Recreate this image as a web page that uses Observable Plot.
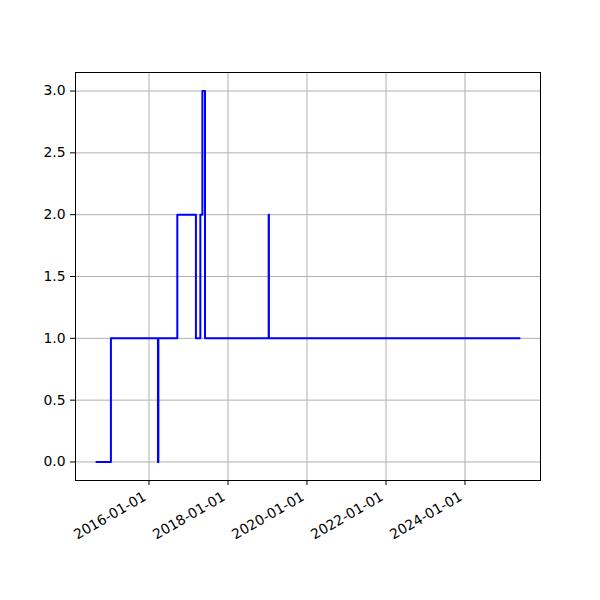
<!DOCTYPE html>
<html>
<head>
<meta charset="utf-8">
<script src="https://cdn.jsdelivr.net/npm/d3@7"></script>
<script src="https://cdn.jsdelivr.net/npm/@observablehq/plot@0.6"></script>
<style>
  html, body { margin: 0; padding: 0; background: #fff; }
</style>
</head>
<body>
<div id="chart"></div>
<script>
const dates = [
  "2014-09-04", "2015-01-14", "2016-03-24", "2016-03-28", "2016-09-19",
  "2017-03-10", "2017-04-20", "2017-05-09", "2017-06-02", "2019-01-12",
  "2019-01-14", "2025-05-18"
];
const values = [0, 1, 0, 1, 2, 1, 2, 3, 1, 2, 1, 1];
const yTicks = [0, 0.5, 1, 1.5, 2, 2.5, 3];
const xTickYears = [2016, 2018, 2020, 2022, 2024];

const data = dates.map((d, i) => ({date: new Date(d + "T00:00:00Z"), value: values[i]}));

const ext = d3.extent(data, d => d.date);
const span = ext[1] - ext[0];
const xDomain = [new Date(+ext[0] - 0.05 * span), new Date(+ext[1] + 0.05 * span)];
const yExt = d3.extent(values);
const ySpan = yExt[1] - yExt[0];
const yDomain = [yExt[0] - 0.05 * ySpan, yExt[1] + 0.05 * ySpan];
const xTicks = xTickYears.map(y => new Date(Date.UTC(y, 0, 1)));

const chart = Plot.plot({
  width: 600,
  height: 600,
  marginLeft: 75,
  marginRight: 60,
  marginTop: 72,
  marginBottom: 120,
  style: {fontFamily: "DejaVu Sans", fontSize: "13.9px", color: "black", background: "white"},
  x: {type: "utc", domain: xDomain},
  y: {domain: yDomain},
  marks: [
    Plot.gridX(xTicks, {stroke: "#b0b0b0", strokeOpacity: 1, strokeWidth: 1}),
    Plot.gridY(yTicks, {stroke: "#b0b0b0", strokeOpacity: 1, strokeWidth: 1}),
    Plot.line(data, {x: "date", y: "value", curve: "step-after", stroke: "blue", strokeWidth: 2, strokeLinecap: "square"}),
    Plot.frame({stroke: "black", strokeWidth: 1}),
    Plot.axisY(yTicks, {tickFormat: d3.format(".1f"), tickSize: 5, tickPadding: 5, label: null, stroke: "black", fill: "black"}),
    Plot.axisX(xTicks, {tickFormat: () => "", tickSize: 5, label: null, stroke: "black"}),
    Plot.axisX(xTicks, {tickFormat: d3.utcFormat("%Y-%m-%d"), tickRotate: -30, tickSize: 0, tickPadding: 9, label: null, fill: "black", dx: -4, dy: 6})
  ]
});
document.getElementById("chart").appendChild(chart);
</script>
</body>
</html>
